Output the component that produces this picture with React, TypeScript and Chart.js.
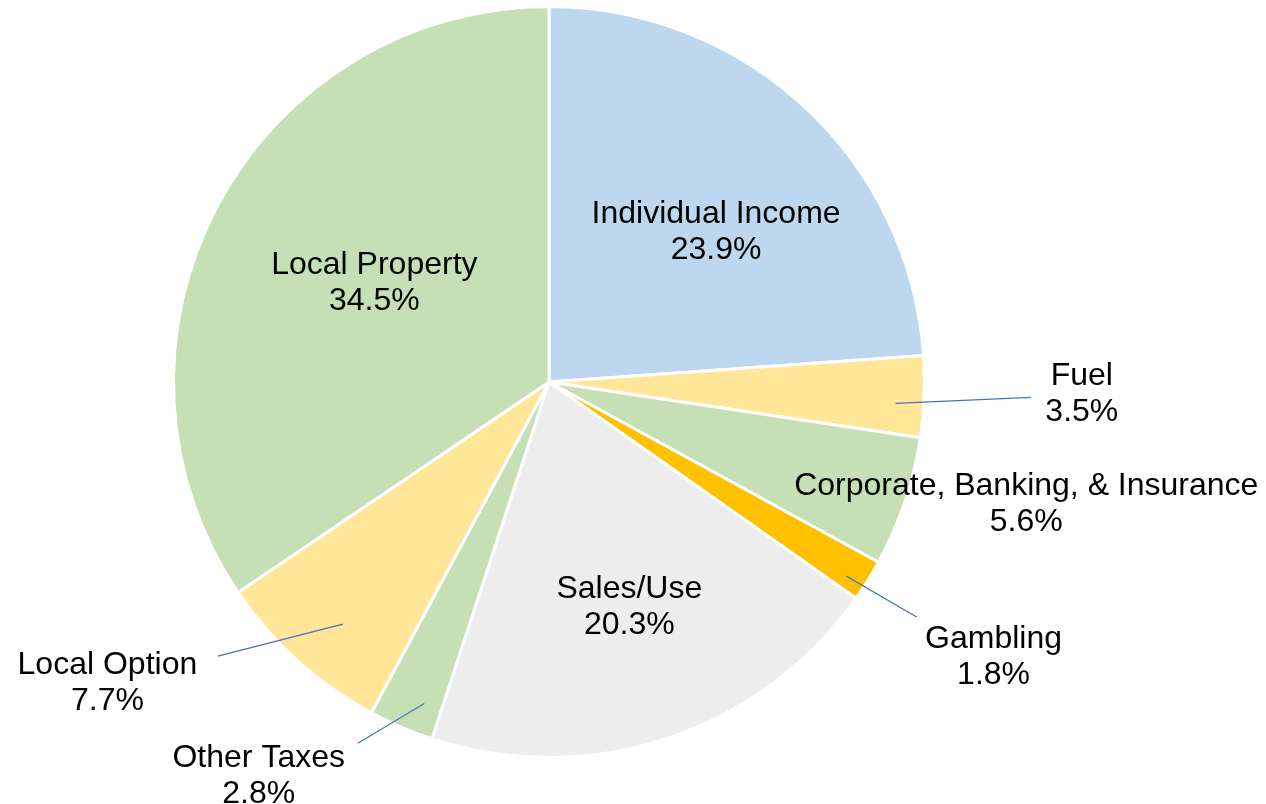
import React, { useEffect, useRef } from "react";
import { Chart, registerables } from "chart.js";

Chart.register(...registerables);

const categories = [
  "Individual Income",
  "Fuel",
  "Corporate, Banking, & Insurance",
  "Gambling",
  "Sales/Use",
  "Other Taxes",
  "Local Option",
  "Local Property",
];
const shares = [23.9, 3.5, 5.6, 1.8, 20.3, 2.8, 7.7, 34.5];
const shareLabels = ["23.9%", "3.5%", "5.6%", "1.8%", "20.3%", "2.8%", "7.7%", "34.5%"];
const sliceColors = [
  "#BDD7EE",
  "#FFE699",
  "#C5E0B4",
  "#FFC000",
  "#EDEDED",
  "#C5E0B4",
  "#FFE699",
  "#C5E0B4",
];

// label placement in units of pie radius from the pie centre
const labelPlacement = [
  { x: 0.445, y: -0.399 },
  { x: 1.419, y: 0.033, from: [0.923, 0.057], to: [1.283, 0.041] },
  { x: 1.271, y: 0.326 },
  { x: 1.184, y: 0.732, from: [0.792, 0.517], to: [0.979, 0.626] },
  { x: 0.214, y: 0.599 },
  { x: -0.773, y: 1.049, from: [-0.332, 0.856], to: [-0.509, 0.962] },
  { x: -1.176, y: 0.801, from: [-0.549, 0.645], to: [-0.882, 0.73] },
  { x: -0.465, y: -0.263 },
];

const labelPlugin = {
  id: "pieLabels",
  afterDatasetsDraw(chart: any) {
    const meta = chart.getDatasetMeta(0);
    const arc = meta.data[0];
    if (!arc) return;
    const { x: cx, y: cy, outerRadius: r } = arc.getProps(["x", "y", "outerRadius"], true);
    const ctx = chart.ctx;
    ctx.save();
    ctx.font = "32px 'Liberation Sans', Arial, sans-serif";
    ctx.fillStyle = "#000000";
    ctx.textAlign = "center";
    ctx.textBaseline = "middle";
    const lh = 36;
    categories.forEach((cat, i) => {
      const p: any = labelPlacement[i];
      if (p.from) {
        ctx.strokeStyle = "#4472C4";
        ctx.lineWidth = 1.2;
        ctx.beginPath();
        ctx.moveTo(cx + p.from[0] * r, cy + p.from[1] * r);
        ctx.lineTo(cx + p.to[0] * r, cy + p.to[1] * r);
        ctx.stroke();
      }
      const lx = cx + p.x * r;
      const ly = cy + p.y * r;
      ctx.fillText(cat, lx, ly - lh / 2);
      ctx.fillText(shareLabels[i], lx, ly + lh / 2);
    });
    ctx.restore();
  },
};

export default function App() {
  const ref = useRef<HTMLCanvasElement>(null);
  useEffect(() => {
    if (!ref.current) return;
    const chart = new Chart(ref.current, {
      type: "pie",
      data: {
        labels: categories,
        datasets: [
          {
            data: shares,
            backgroundColor: sliceColors,
            borderColor: "#FFFFFF",
            borderWidth: 3,
          },
        ],
      },
      options: {
        responsive: false,
        animation: false,
        devicePixelRatio: 1,
        layout: { padding: { left: 172, right: 340, top: 5, bottom: 45 } },
        plugins: {
          legend: { display: false },
          tooltip: { enabled: false },
        },
      },
      plugins: [labelPlugin],
    });
    return () => chart.destroy();
  }, []);
  return (
    <div style={{ position: "absolute", left: 0, top: 0, width: 1266, height: 804, background: "#fff" }}>
      <canvas ref={ref} width={1266} height={804} />
    </div>
  );
}
